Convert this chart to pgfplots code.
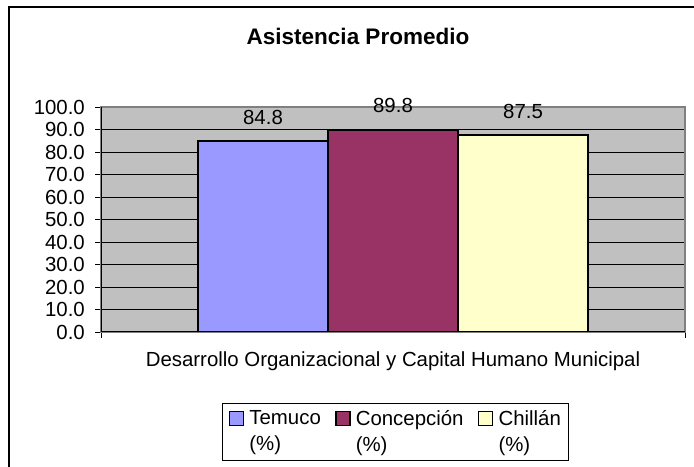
\documentclass[border=0pt]{standalone}
\usepackage{fontspec}
\setmainfont{Liberation Sans}
\usepackage{pgfplots}
\pgfplotsset{compat=1.18}
\definecolor{temuco}{HTML}{9999FF}
\definecolor{concep}{HTML}{993366}
\definecolor{chillan}{HTML}{FFFFCC}
\definecolor{plotbg}{HTML}{C0C0C0}
\definecolor{frameg}{HTML}{808080}

\pgfplotsset{
  sq legend/.style={legend image code/.code={
      \path[draw=none, fill=none] (0bp,0bp) -- (20bp,0bp);
      \draw[##1, line width=1.6bp] (2bp,6bp) rectangle (16bp,20bp);}},
}

\begin{document}
\begin{tikzpicture}[x=1bp,y=1bp]
\begin{axis}[
  at={(101bp,135bp)}, anchor=south west,
  scale only axis, width=584bp, height=225bp,
  xmin=-1, xmax=1, ymin=0, ymax=100,
  axis background/.style={fill=plotbg},
  axis line style={draw=frameg, line width=1.4bp},
  ybar=0pt, bar width=130bp,
  ymajorgrids, grid style={black, line width=0.8bp},
  ytick={0,10,...,100}, xtick={-1,1}, xticklabels={},
  tick align=outside, ytick pos=left, xtick pos=bottom,
  major tick length=6bp,
  tick style={black, line width=0.8bp},
  font=\fontsize{20.4bp}{24bp}\selectfont,
  yticklabel={\pgfmathprintnumber[fixed,fixed zerofill,precision=1,assume math mode=true]{\tick}},
  yticklabel style={inner sep=0pt, anchor=east, xshift=-10bp},
  nodes near coords={\pgfmathprintnumber[fixed,fixed zerofill,precision=1,assume math mode=true]{\pgfplotspointmeta}},
  every node near coord/.append style={anchor=base, yshift=17bp, inner sep=0pt, text=black},
  xlabel={Desarrollo Organizacional y Capital Humano Municipal},
  xlabel style={at={(axis description cs:0.5,0)}, anchor=base, yshift=-35bp, inner sep=0pt},
  legend columns=3,
  legend style={at={(0.2072,-0.3156)}, anchor=north west, draw=black, line width=0.8bp,
    font=\fontsize{20.4bp}{26bp}\selectfont,
    inner xsep=5bp, inner ysep=5bp,
    cells={align=left, anchor=west},
    /tikz/every even column/.append style={column sep=11bp}},
]
\addplot[fill=temuco, draw=black, line width=1.6bp, sq legend] coordinates {(0,84.8)};
\addlegendentry{Temuco\\(\%)}
\addplot[fill=concep, draw=black, line width=1.6bp, sq legend] coordinates {(0,89.8)};
\addlegendentry{Concepción\\(\%)}
\addplot[fill=chillan, draw=black, line width=1.6bp, sq legend] coordinates {(0,87.5)};
\addlegendentry{Chillán\\(\%)}
\draw[black, line width=1.4bp] (rel axis cs:0,1) -- (rel axis cs:0,0) -- (rel axis cs:1,0);
\end{axis}
\node[font=\bfseries\fontsize{22.5bp}{26bp}\selectfont, anchor=base] at (358,422) {Asistencia Promedio};
\draw[black, line width=1.2bp] (9,-5) -- (9,460) -- (700,460);
\pgfresetboundingbox
\useasboundingbox (0,0) rectangle (694,467);
\end{tikzpicture}
\end{document}
